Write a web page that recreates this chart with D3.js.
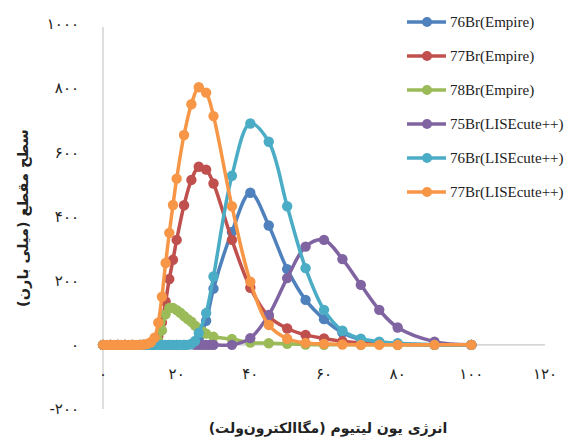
<!DOCTYPE html>
<html>
<head>
<meta charset="utf-8">
<script src="https://cdn.jsdelivr.net/npm/d3@7"></script>
<style>
  body { margin: 0; background: #fff; }
  svg { display: block; }
</style>
</head>
<body>
<div id="chart"></div>
<script>
// series names and colours (Excel 2010 palette)
var seriesNames = ["76Br(Empire)", "77Br(Empire)", "78Br(Empire)",
  "75Br(LISEcute++)", "76Br(LISEcute++)", "77Br(LISEcute++)"];
var seriesColors = ["#4f81bd", "#c0504d", "#9bbb59", "#8064a2", "#4bacc6", "#f79646"];

// energy (MeV) and cross section (mb) per series
var blueX = [0, 2, 4, 6, 8, 10, 12, 14, 16, 18, 20, 22, 24, 26, 28, 30, 35, 40, 45, 50, 55, 60, 65, 70, 75, 80, 90, 100];
var blueY = [0, 0, 0, 0, 0, 0, 0, 0, 0, 0, 0, 0, 2, 20, 75, 175, 352, 474, 372, 236, 140, 80, 38, 16, 8, 3, 0, 0];

var redX = [0, 2, 4, 6, 8, 10, 12, 13, 14, 15, 16, 17, 18, 19, 20, 22, 24, 26, 28, 30, 35, 40, 45, 50, 55, 60, 65, 70, 75, 80, 90, 100];
var redY = [0, 0, 0, 0, 0, 0, 0, 1, 5, 25, 70, 135, 205, 265, 327, 435, 514, 555, 546, 503, 327, 178, 88, 51, 31, 20, 11, 6, 3, 1, 0, 0];

var greenX = [0, 2, 4, 6, 8, 10, 12, 13, 14, 15, 16, 17, 18, 19, 20, 21, 22, 23, 24, 25, 26, 27, 28, 30, 35, 40, 45, 50, 55, 60, 70, 80, 90, 100];
var greenY = [0, 0, 0, 0, 0, 0, 0, 1, 3, 12, 45, 95, 115, 115, 108, 100, 90, 80, 72, 60, 50, 42, 35, 25, 18, 7, 5, 3, 1, 0, 0, 0, 0, 0];

var purpleX = [25, 26, 27, 28, 29, 30, 35, 40, 45, 50, 55, 60, 65, 70, 75, 80, 90, 100];
var purpleY = [0, 0, 0, 0, 0, 0, 0, 21, 93, 208, 306, 327, 267, 187, 109, 54, 10, 0];

var cyanX = [0, 2, 4, 6, 8, 10, 11, 12, 13, 14, 15, 16, 17, 18, 19, 20, 21, 22, 23, 24, 25, 26, 28, 30, 35, 40, 45, 50, 55, 60, 65, 70, 75, 80, 90, 100];
var cyanY = [0, 0, 0, 0, 0, 0, 0, 0, 0, 0, 0, 0, 0, 0, 0, 0, 0, 0, 0, 3, 12, 37, 99, 213, 527, 690, 633, 432, 239, 109, 44, 19, 10, 5, 0, 0];

var orangeX = [0, 1, 2, 3, 4, 5, 6, 7, 8, 9, 10, 11, 12, 13, 14, 15, 16, 17, 18, 19, 20, 22, 24, 26, 28, 30, 35, 40, 45, 50, 55, 60, 65, 70, 75, 80, 90, 100];
var orangeY = [0, 0, 0, 0, 0, 0, 0, 0, 0, 0, 0, 1, 3, 8, 22, 69, 150, 255, 349, 436, 518, 654, 750, 803, 786, 713, 432, 197, 62, 19, 6, 3, 1, 0, 0, 0, 0, 0];

// axis ticks and titles
var xTicks = [0, 20, 40, 60, 80, 100, 120];
var yTicks = [-200, 0, 200, 400, 600, 800, 1000];
var xTitle = "انرژی یون لیتیوم (مگاالکترون‌ولت)";
var yTitle = "سطح مقطع (میلی بارن)";

var allX = [blueX, redX, greenX, purpleX, cyanX, orangeX];
var allY = [blueY, redY, greenY, purpleY, cyanY, orangeY];

var width = 571, height = 439;

var svg = d3.select("#chart")
  .append("svg")
  .attr("width", width)
  .attr("height", height);

var x = d3.scaleLinear().domain([0, 120]).range([103, 545]);
var y = d3.scaleLinear().domain([-200, 1000]).range([409, 24]);

function toPersian(n) {
  var digits = "۰۱۲۳۴۵۶۷۸۹";
  return String(n).replace(/[0-9]/g, function (c) { return digits[+c]; });
}

// axis lines
svg.append("line")
  .attr("x1", x(0)).attr("x2", x(0))
  .attr("y1", y(1000) + 3).attr("y2", y(-200))
  .attr("stroke", "#c8c8c8").attr("stroke-width", 1.2);

svg.append("line")
  .attr("x1", x(0)).attr("x2", x(120))
  .attr("y1", y(0)).attr("y2", y(0))
  .attr("stroke", "#c8c8c8").attr("stroke-width", 1.2);

// tick labels
svg.selectAll("text.ytick")
  .data(yTicks)
  .enter()
  .append("text")
  .attr("class", "ytick")
  .attr("x", 79)
  .attr("y", function (d) { return y(d); })
  .attr("dy", "0.35em")
  .attr("text-anchor", "end")
  .style("font-family", "DejaVu Sans")
  .style("font-size", "15px")
  .style("fill", "#222")
  .text(function (d) { return toPersian(d); });

svg.selectAll("text.xtick")
  .data(xTicks)
  .enter()
  .append("text")
  .attr("class", "xtick")
  .attr("x", function (d) { return x(d); })
  .attr("y", 374)
  .attr("dy", "0.35em")
  .attr("text-anchor", "middle")
  .style("font-family", "DejaVu Sans")
  .style("font-size", "15px")
  .style("fill", "#222")
  .text(function (d) { return toPersian(d); });

// axis titles
svg.append("text")
  .attr("transform", "translate(23,218)rotate(-90)")
  .attr("direction", "rtl")
  .attr("text-anchor", "middle")
  .attr("dy", "0.35em")
  .style("font-family", "DejaVu Sans")
  .style("font-size", "14.5px")
  .style("font-weight", "bold")
  .style("fill", "#222")
  .text(yTitle);

svg.append("text")
  .attr("x", 328)
  .attr("y", 428)
  .attr("direction", "rtl")
  .attr("text-anchor", "middle")
  .attr("dy", "0.35em")
  .style("font-family", "DejaVu Sans")
  .style("font-size", "14px")
  .style("font-weight", "bold")
  .style("fill", "#222")
  .text(xTitle);

// series
var line = d3.line()
  .x(function (d) { return x(d[0]); })
  .y(function (d) { return y(d[1]); })
  .curve(d3.curveCatmullRom.alpha(0.5));

seriesNames.forEach(function (name, i) {
  var pts = allX[i].map(function (v, j) { return [v, allY[i][j]]; });
  var g = svg.append("g").attr("class", "series");

  g.append("path")
    .datum(pts)
    .attr("d", line)
    .attr("fill", "none")
    .attr("stroke", seriesColors[i])
    .attr("stroke-width", 3.5);

  g.selectAll("circle")
    .data(pts)
    .enter()
    .append("circle")
    .attr("cx", function (d) { return x(d[0]); })
    .attr("cy", function (d) { return y(d[1]); })
    .attr("r", 5.2)
    .attr("fill", seriesColors[i]);
});

// legend
var legend = svg.append("g")
  .selectAll("g")
  .data(seriesNames)
  .enter()
  .append("g")
  .attr("transform", function (d, i) { return "translate(0," + (22 + i * 34) + ")"; });

legend.append("line")
  .attr("x1", 407).attr("x2", 446)
  .attr("stroke", function (d, i) { return seriesColors[i]; })
  .attr("stroke-width", 3.5);

legend.append("circle")
  .attr("cx", 427)
  .attr("r", 5)
  .attr("fill", function (d, i) { return seriesColors[i]; });

legend.append("text")
  .attr("x", 450)
  .attr("dy", "0.35em")
  .style("font-family", "Liberation Serif")
  .style("font-size", "15px")
  .style("fill", "#222")
  .text(function (d) { return d; });
</script>
</body>
</html>
